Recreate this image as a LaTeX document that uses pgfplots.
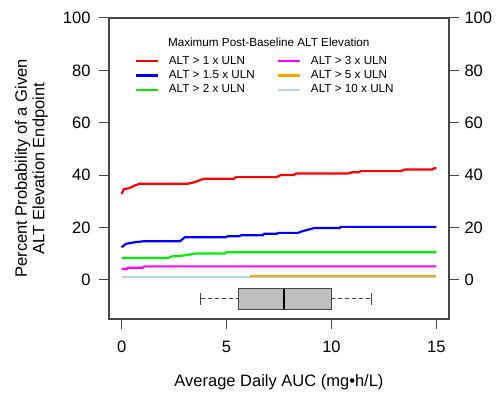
\documentclass[border=0pt]{standalone}
\usepackage{pgfplots}
\pgfplotsset{compat=1.18}
\usepgfplotslibrary{statistics}
\usepackage{fontspec}
\setmainfont{Liberation Sans}
\definecolor{ltblue}{RGB}{173,216,230}
\definecolor{orng}{RGB}{255,165,0}
\definecolor{grn}{RGB}{0,238,0}
\definecolor{mgnt}{RGB}{255,0,255}
\definecolor{rd}{RGB}{255,0,0}
\definecolor{bl}{RGB}{0,0,255}
\definecolor{axgray}{RGB}{70,70,70}
\begin{document}
\begin{tikzpicture}
\pgfplotsset{
  common/.style={
    scale only axis, width=340bp, height=301bp,
    xmin=-0.6, xmax=15.6, ymin=-15, ymax=100,
    tick align=outside, major tick length=10bp,
    /pgf/number format/assume math mode=true,
    tick label style={font=\fontsize{16.5bp}{18bp}\selectfont, black},
    tick style={axgray, line width=1bp},
    axis line style={axgray, line width=1.1bp},
    ytick={0,20,40,60,80,100},
  }
}
\begin{axis}[common,
  xtick={0,5,10,15}, xtick pos=bottom, ytick pos=left,
  yticklabel style={xshift=-5bp},
  xticklabel style={yshift=-8.5bp},
  xlabel={Average Daily AUC (mg•h/L)},
  ylabel={Percent Probability of a Given\\ALT Elevation Endpoint},
  label style={font=\fontsize{16.5bp}{17.5bp}\selectfont},
  xlabel style={at={(axis description cs:0.5,-0.209)}, anchor=center},
  ylabel style={at={(axis description cs:-0.228,0.5)}, anchor=center, align=center},
  legend columns=2,
  legend cell align=left,
  legend image code/.code={\draw[#1, line width=2.2bp] (0bp,0bp) -- (22bp,0bp);},
  legend style={draw=none, fill=none, at={(axis cs:0.47,86.6)}, anchor=north west,
    font=\fontsize{11.7bp}{14bp}\selectfont,
    nodes={inner sep=0pt, text height=9bp, text depth=3bp},
    row sep=2.3bp,
    /tikz/every odd column/.append style={column sep=10bp},
    /tikz/every even column/.append style={column sep=22bp}},
]
\coordinate (O) at (rel axis cs:0,0);
\addlegendimage{rd}\addlegendentry{ALT > 1 x ULN}
\addlegendimage{mgnt}\addlegendentry{ALT > 3 x ULN}
\addlegendimage{bl}\addlegendentry{ALT > 1.5 x ULN}
\addlegendimage{orng}\addlegendentry{ALT > 5 x ULN}
\addlegendimage{grn}\addlegendentry{ALT > 2 x ULN}
\addlegendimage{ltblue}\addlegendentry{ALT > 10 x ULN}

\addplot[ltblue, line width=2.2bp, forget plot] coordinates {(0,1.0)(15,1.0)};
\addplot[orng, line width=2.2bp, forget plot] coordinates {(6.14,1.5)(15,1.5)};
\addplot[mgnt, line width=2.2bp, forget plot] coordinates {(0,4.1)(0.25,4.1)(0.3,4.6)(1.0,4.6)(1.1,5.1)(15,5.1)};
\addplot[grn, line width=2.2bp, forget plot] coordinates {(0,8.3)(2.22,8.3)(2.38,8.9)(3.0,9.3)(3.5,10.0)(4.9,10.0)(5.0,10.5)(15,10.5)};
\addplot[bl, line width=2.2bp, forget plot] coordinates {(0,12.4)(0.2,13.7)(0.6,14.3)(1.05,14.7)(2.78,14.7)(3.01,16.2)(4.96,16.2)(5.05,16.6)(5.6,16.6)(5.7,17.0)(6.73,17.0)(6.8,17.6)(7.4,17.6)(7.5,17.9)(8.4,17.9)(8.6,18.5)(9.2,19.8)(10.4,19.8)(10.45,20.2)(15,20.2)};
\addplot[rd, line width=2.2bp, forget plot] coordinates {(0,32.8)(0.1,34.5)(0.4,35.1)(0.63,36.0)(0.87,36.7)(3.17,36.7)(3.49,37.3)(3.92,38.6)(5.35,38.6)(5.45,39.2)(7.38,39.2)(7.6,40.0)(8.2,40.0)(8.33,40.6)(10.8,40.6)(11.0,41.1)(11.3,41.1)(11.4,41.5)(13.3,41.5)(13.5,42.1)(14.8,42.1)(14.9,42.6)(15,42.6)};

\addplot[forget plot, draw=axgray, fill=black!25, line width=1bp,
  boxplot prepared={median=7.74, upper quartile=10.0, lower quartile=5.55,
    upper whisker=11.9, lower whisker=3.78, draw position=-7.3,
    box extend=7.8, whisker extend=4.5, draw direction=x},
  boxplot/draw/median/.code={\draw[black, line width=2bp]
    (boxplot box cs:\pgfplotsboxplotvalue{median},0) -- (boxplot box cs:\pgfplotsboxplotvalue{median},1);},
  boxplot/draw/lower whisker/.code={%
    \draw[axgray, line width=1bp, dash pattern=on 4bp off 3bp]
      (boxplot box cs:\pgfplotsboxplotvalue{lower whisker},0.5) -- (boxplot box cs:\pgfplotsboxplotvalue{lower quartile},0.5);
    \draw[axgray, line width=1bp]
      (boxplot whisker cs:\pgfplotsboxplotvalue{lower whisker},0) -- (boxplot whisker cs:\pgfplotsboxplotvalue{lower whisker},1);},
  boxplot/draw/upper whisker/.code={%
    \draw[axgray, line width=1bp, dash pattern=on 4bp off 3bp]
      (boxplot box cs:\pgfplotsboxplotvalue{upper quartile},0.5) -- (boxplot box cs:\pgfplotsboxplotvalue{upper whisker},0.5);
    \draw[axgray, line width=1bp]
      (boxplot whisker cs:\pgfplotsboxplotvalue{upper whisker},0) -- (boxplot whisker cs:\pgfplotsboxplotvalue{upper whisker},1);},
] coordinates {};

\node[font=\fontsize{11.7bp}{14bp}\selectfont] at (axis cs:7.01,90.8) {Maximum Post-Baseline ALT Elevation};
\end{axis}
\begin{axis}[common, axis x line=none, axis y line*=right,
  yticklabel style={anchor=west, xshift=2bp}]
\end{axis}
\pgfresetboundingbox
\path[use as bounding box] (O) ++(-109bp,-77bp) rectangle ++(497bp,396bp);
\end{tikzpicture}
\end{document}
